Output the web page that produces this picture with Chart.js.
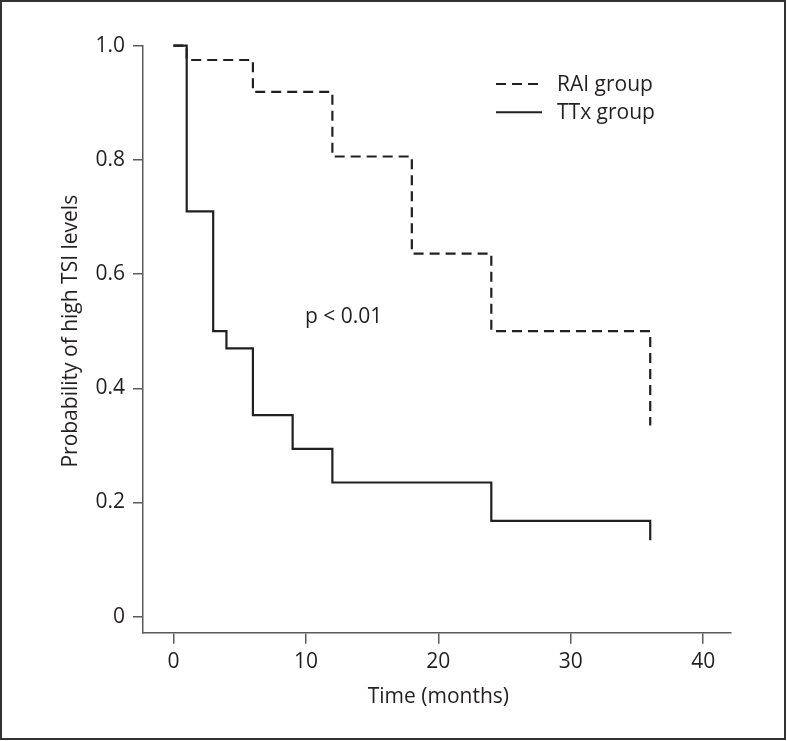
<!DOCTYPE html>
<html><head><meta charset="utf-8">
<script src="https://cdn.jsdelivr.net/npm/chart.js@4/dist/chart.umd.min.js"></script>
<style>html,body{margin:0;padding:0;background:#fff}#wrap{position:relative;width:787px;height:741px}</style>
</head><body><div id="wrap"><canvas id="c" width="787" height="741"></canvas></div>
<script>
const seriesNames = ['RAI group', 'TTx group'];
const raiTimes = [0, 1, 6, 12, 18, 24, 36];
const raiValues = [1, 0.975, 0.919, 0.806, 0.636, 0.5, 0.335];
const ttxTimes = [0, 1, 3, 4, 6, 9, 12, 24, 36];
const ttxValues = [1, 0.71, 0.5, 0.47, 0.353, 0.294, 0.235, 0.168, 0.134];
const xTicks = [0, 10, 20, 30, 40];
const yTicks = [0, 0.2, 0.4, 0.6, 0.8, 1.0];
const yTickLabels = ['0', '0.2', '0.4', '0.6', '0.8', '1.0'];
const xTitle = 'Time (months)';
const yTitle = 'Probability of high TSI levels';
const annotationText = 'p < 0.01';

const INK = '#231f20';
const AXIS = '#5a5a5c';
const FONT_FAMILY = '"Open Sans", "DejaVu Sans", sans-serif';
const FONT_SIZE = 21;
const DASH = [10, 6];

const toPoints = (ts, vs) => ts.map((t, i) => ({ x: t, y: vs[i] }));

const decorPlugin = {
  id: 'decor',
  afterDraw(chart) {
    const ctx = chart.ctx;
    const xs = chart.scales.x, ys = chart.scales.y;
    ctx.save();
    // frame
    ctx.strokeStyle = '#333';
    ctx.lineWidth = 2;
    ctx.setLineDash([]);
    ctx.strokeRect(1, 1, 784, 738);
    ctx.fillStyle = INK;
    ctx.font = FONT_SIZE + 'px ' + FONT_FAMILY;
    // x title
    ctx.textAlign = 'center';
    ctx.textBaseline = 'alphabetic';
    ctx.fillText(xTitle, xs.getPixelForValue(20), 702.5);
    // y title
    ctx.save();
    ctx.translate(77, ys.getPixelForValue(0.5));
    ctx.rotate(-Math.PI / 2);
    ctx.textAlign = 'center';
    ctx.fillText(yTitle, 0, 0);
    ctx.restore();
    // annotation
    ctx.textAlign = 'left';
    ctx.fillText(annotationText, 305, 323.3);
    // legend
    ctx.strokeStyle = INK;
    ctx.lineWidth = 2;
    ctx.setLineDash(DASH);
    ctx.beginPath(); ctx.moveTo(496, 84); ctx.lineTo(542, 84); ctx.stroke();
    ctx.setLineDash([]);
    ctx.beginPath(); ctx.moveTo(496, 112.3); ctx.lineTo(542, 112.3); ctx.stroke();
    ctx.fillText(seriesNames[0], 557, 90.7);
    ctx.fillText(seriesNames[1], 557, 118.7);
    ctx.restore();
  }
};

new Chart(document.getElementById('c'), {
  type: 'line',
  data: {
    datasets: [
      { label: seriesNames[1], data: toPoints(ttxTimes, ttxValues), stepped: true,
        borderColor: INK, borderWidth: 2.2, pointRadius: 0, fill: false, clip: false, order: 1 },
      { label: seriesNames[0], data: toPoints(raiTimes, raiValues), stepped: true,
        borderColor: INK, borderWidth: 2.2, borderDash: DASH, pointRadius: 0, fill: false, clip: false, order: 2 }
    ]
  },
  options: {
    responsive: false,
    animation: false,
    devicePixelRatio: 1,
    layout: { padding: { top: 45.7, right: 56, bottom: 0, left: 0 } },
    plugins: { legend: { display: false }, tooltip: { enabled: false } },
    scales: {
      x: {
        type: 'linear', min: -2.3, max: 42.1,
        afterBuildTicks: s => { s.ticks = xTicks.map(v => ({ value: v })); },
        afterFit: s => { s.height = 108.3; },
        ticks: { color: INK, font: { family: FONT_FAMILY, size: FONT_SIZE }, padding: 6, maxRotation: 0, autoSkip: false },
        grid: { drawOnChartArea: false, drawTicks: true, tickLength: 11, color: AXIS, lineWidth: 1.5 },
        border: { display: true, color: AXIS, width: 1.5 }
      },
      y: {
        type: 'linear', min: -0.028, max: 1.0,
        afterBuildTicks: s => { s.ticks = yTicks.map(v => ({ value: v })); },
        afterFit: s => { s.width = 143; },
        ticks: { color: INK, font: { family: FONT_FAMILY, size: FONT_SIZE }, padding: 8,
          callback: v => yTickLabels[yTicks.findIndex(t => Math.abs(t - v) < 1e-9)] },
        grid: { drawOnChartArea: false, drawTicks: true, tickLength: 10, color: AXIS, lineWidth: 1.5 },
        border: { display: true, color: AXIS, width: 1.5 }
      }
    }
  },
  plugins: [decorPlugin]
});
</script>
</body></html>
